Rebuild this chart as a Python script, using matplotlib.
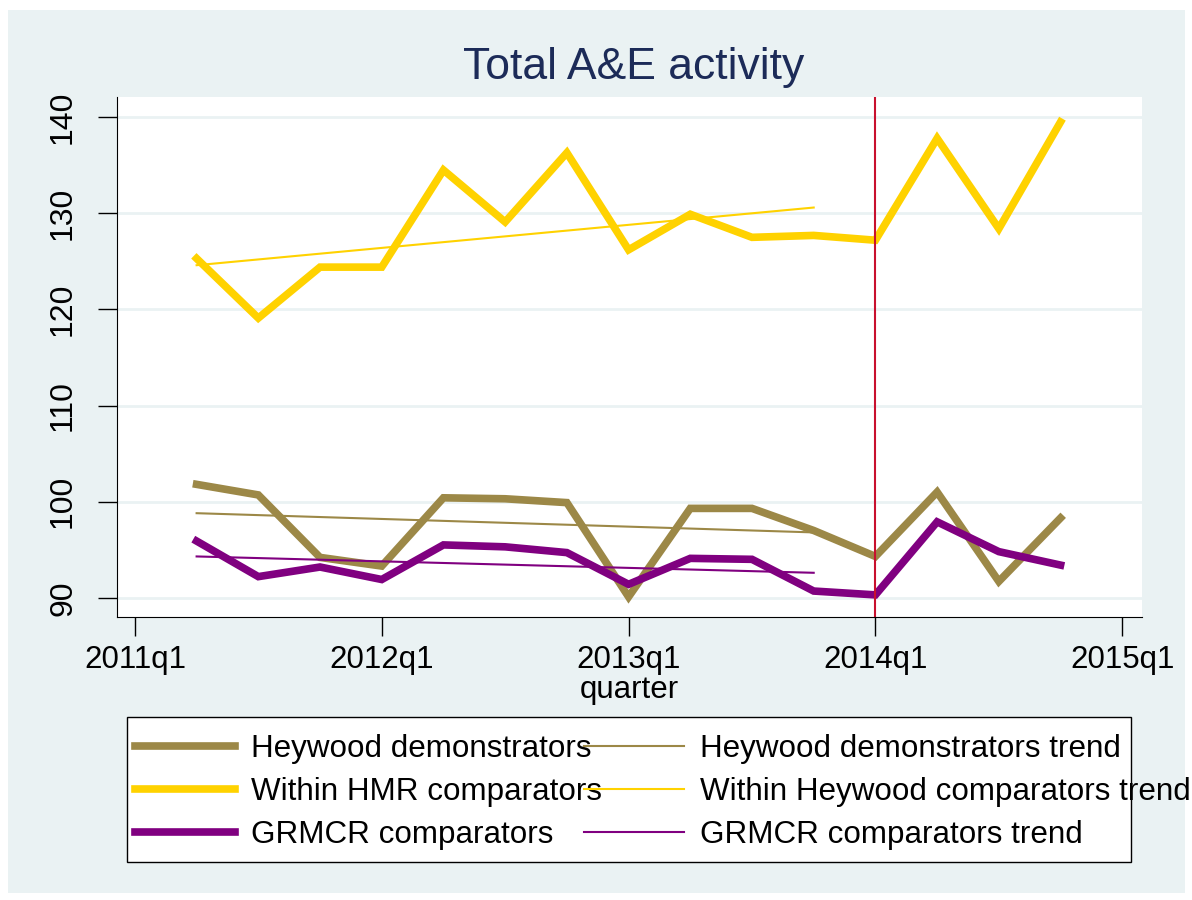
import matplotlib
matplotlib.use("Agg")
import matplotlib.pyplot as plt
from matplotlib.patches import Rectangle
from matplotlib.lines import Line2D

plt.rcParams['font.family'] = ['Liberation Sans', 'DejaVu Sans']

# quarters since 2011q1 (0 = 2011q1)
quarters = list(range(1, 16))
heywood = [101.8, 100.7, 94.2, 93.3, 100.4, 100.3, 99.9, 90.1, 99.3, 99.3, 97.0, 94.3, 101.0, 91.7, 98.3]
within_hmr = [125.3, 119.1, 124.4, 124.4, 134.5, 129.1, 136.3, 126.2, 129.9, 127.5, 127.7, 127.2, 137.8, 128.4, 139.5]
grmcr = [95.9, 92.2, 93.2, 91.9, 95.5, 95.3, 94.7, 91.4, 94.1, 94.0, 90.7, 90.3, 97.9, 94.8, 93.4]

# pre-period linear trends (2011q2 - 2013q4)
trend_x = [1, 11]
heywood_trend = [98.8, 96.8]
within_trend = [124.6, 130.6]
grmcr_trend = [94.3, 92.6]

xtick_pos = [0, 4, 8, 12, 16]
xtick_labels = ["2011q1", "2012q1", "2013q1", "2014q1", "2015q1"]
yticks = [90, 100, 110, 120, 130, 140]

brown = "#9C8847"
yellow = "#FFD200"
purple = "#800080"
bg = "#EAF2F3"

fig = plt.figure(figsize=(11.92, 9), dpi=100, facecolor="white")
fig.patches.append(Rectangle((8 / 1192, 7 / 900), 1177 / 1192, 883 / 900,
                             transform=fig.transFigure, facecolor=bg, edgecolor="none", zorder=-10))

ax = fig.add_axes([117 / 1192, 1 - 617 / 900, 1025 / 1192, 520 / 900])
ax.set_facecolor("white")

for y in yticks:
    ax.axhline(y, color=bg, lw=2, zorder=0)

ax.plot(quarters, heywood, color=brown, lw=5.5, solid_joinstyle="miter")
ax.plot(trend_x, heywood_trend, color=brown, lw=1.5)
ax.plot(quarters, within_hmr, color=yellow, lw=5.5, solid_joinstyle="miter")
ax.plot(trend_x, within_trend, color=yellow, lw=1.5)
ax.plot(quarters, grmcr, color=purple, lw=5.5, solid_joinstyle="miter")
ax.plot(trend_x, grmcr_trend, color=purple, lw=1.5)
ax.axvline(12, color="#C8102E", lw=1.5)

ax.set_xlim(-0.29, 16.32)
ax.set_ylim(88.0, 142.1)
ax.set_xticks(xtick_pos)
ax.set_xticklabels(xtick_labels, fontsize=22.5)
ax.set_yticks(yticks)
ax.set_yticklabels([str(v) for v in yticks], fontsize=23, rotation=90, va="center")
ax.tick_params(axis="both", length=14, width=1, color="black", pad=6)
ax.tick_params(axis="y", pad=14)
ax.spines["top"].set_visible(False)
ax.spines["right"].set_visible(False)
ax.set_xlabel("quarter", fontsize=22.5, labelpad=0)

fig.text(634 / 1192, 1 - 68 / 900, "Total A&E activity", fontsize=32, color="#1C2B58",
         ha="center", va="center")

# legend box
fig.patches.append(Rectangle((127 / 1192, 1 - 862 / 900), 1004 / 1192, 145 / 900,
                             transform=fig.transFigure, facecolor="white", edgecolor="black",
                             lw=1, zorder=1))

labels1 = ["Heywood demonstrators", "Within HMR comparators", "GRMCR comparators"]
labels2 = ["Heywood demonstrators trend", "Within Heywood comparators trend", "GRMCR comparators trend"]
colors = [brown, yellow, purple]
h1 = [Line2D([], [], color=c, lw=5.5) for c in colors]
h2 = [Line2D([], [], color=c, lw=1.5) for c in colors]

leg_kw = dict(loc="upper left", frameon=False, fontsize=22.6, handlelength=3.2,
              handletextpad=0.5, labelspacing=0.41, borderpad=0, borderaxespad=0)
leg1 = fig.legend(h1, labels1, bbox_to_anchor=(135 / 1192, 1 - 734 / 900), **leg_kw)
leg2 = fig.legend(h2, labels2, bbox_to_anchor=(584 / 1192, 1 - 734 / 900), **leg_kw)
leg1.set_zorder(2)
leg2.set_zorder(3)

fig.savefig("out.png", dpi=100, facecolor="white")
